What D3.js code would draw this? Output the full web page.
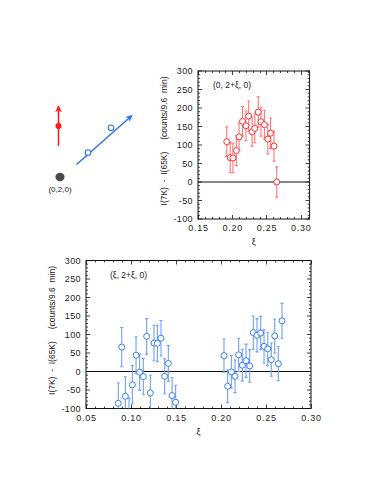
<!DOCTYPE html>
<html>
<head>
<meta charset="utf-8">
<script src="https://cdn.jsdelivr.net/npm/d3@7"></script>
<style>
  body { margin: 0; background: #fff; }
  svg text { font-family: "Liberation Sans", Arial, sans-serif; fill: #222; }
</style>
</head>
<body>
<svg id="chart" width="382" height="494"></svg>
<script>
// top panel: (0, 2+xi, 0), red
var topXi   = [0.192, 0.197, 0.201, 0.206, 0.210, 0.215, 0.220, 0.224, 0.229, 0.233, 0.238, 0.242, 0.247, 0.252, 0.256, 0.261, 0.265];
var topVal  = [109, 66, 65, 85, 122, 164, 152, 178, 136, 145, 189, 163, 155, 116, 132, 97, 0];
var topErr  = [40, 41, 40, 40, 37, 40, 40, 41, 39, 39, 41, 39, 39, 40, 41, 41, 41];

// bottom panel: (xi, 2+xi, 0), blue
var botXi   = [0.0859, 0.0897, 0.0937, 0.0978, 0.1015, 0.1056, 0.1096, 0.1137, 0.1174, 0.1215, 0.1256, 0.1293, 0.1333, 0.1374, 0.1415, 0.1456, 0.1496,
               0.2033, 0.2074, 0.2115, 0.2156, 0.2196, 0.2237, 0.2278, 0.2319, 0.2359, 0.2400, 0.2441, 0.2478, 0.2519, 0.2559, 0.2597, 0.2637, 0.2678];
var botVal  = [-86, 66, -67, -125, -36, 44, -2, -14, 95, -58, 77, 76, 90, -13, 22, -65, -83,
               43, -40, -1, -13, 45, 17, 29, 15, 105, 98, 104, 68, 61, 32, 96, 21, 137];
var botErr  = [55, 53, 53, 53, 52, 50, 49, 49, 48, 48, 48, 49, 48, 47, 48, 48, 46,
               45, 44, 44, 44, 45, 43, 45, 44, 45, 45, 45, 45, 45, 45, 46, 46, 47];

var yTicks = [-100, -50, 0, 50, 100, 150, 200, 250, 300];
var topXTicks = [0.15, 0.20, 0.25, 0.30];
var botXTicks = [0.05, 0.10, 0.15, 0.20, 0.25, 0.30];

var RED = "#ff3333", RED_BAR = "#ff7777";
var BLUE = "#3a7ff0", BLUE_BAR = "#6fa0f5";

var svg = d3.select("#chart");

function panel(opt) {
  var x = d3.scaleLinear().domain(opt.xDomain).range([opt.left, opt.right]);
  var y = d3.scaleLinear().domain([-100, 300]).range([opt.bottom, opt.top]);
  var g = svg.append("g");

  var clipId = "clip" + opt.id;
  svg.append("clipPath").attr("id", clipId).append("rect")
    .attr("x", opt.left).attr("y", opt.top)
    .attr("width", opt.right - opt.left).attr("height", opt.bottom - opt.top);

  // minor + major ticks, inside on all four sides
  var xMinor = d3.range(Math.round(opt.xDomain[0] * 100), Math.floor(opt.xDomain[1] * 100 + 1e-6) + 1).map(function(d){ return d / 100; });
  var yMinor = d3.range(-100, 301, 10);
  var tk = g.append("g").attr("stroke", "#111").attr("stroke-width", 0.8);
  xMinor.forEach(function(v) {
    var major = Math.abs(v * 20 - Math.round(v * 20)) < 1e-6;
    var len = major ? 4 : 2;
    var px = Math.round(x(v)) + 0.5;
    tk.append("line").attr("x1", px).attr("x2", px).attr("y1", opt.bottom).attr("y2", opt.bottom - len);
    tk.append("line").attr("x1", px).attr("x2", px).attr("y1", opt.top).attr("y2", opt.top + len);
  });
  yMinor.forEach(function(v) {
    var len = (v % 50 === 0) ? 4 : 2;
    var py = y(v);
    tk.append("line").attr("y1", py).attr("y2", py).attr("x1", opt.left).attr("x2", opt.left + len);
    tk.append("line").attr("y1", py).attr("y2", py).attr("x1", opt.right).attr("x2", opt.right - len);
  });

  // zero line
  g.append("line").attr("x1", opt.left).attr("x2", opt.right)
    .attr("y1", y(0)).attr("y2", y(0)).attr("stroke", "#111").attr("stroke-width", 1.1);

  // frame
  g.append("rect").attr("x", opt.left).attr("y", opt.top)
    .attr("width", opt.right - opt.left).attr("height", opt.bottom - opt.top)
    .attr("fill", "none").attr("stroke", "#111").attr("stroke-width", 1);

  // tick labels via axes
  var xAxis = d3.axisBottom(x).tickValues(opt.xTicks).tickSize(0).tickPadding(6)
    .tickFormat(d3.format(".2f"));
  var xa = g.append("g").attr("transform", "translate(0," + opt.bottom + ")").call(xAxis);
  xa.select(".domain").remove();
  xa.selectAll("text").attr("font-size", "9px").attr("letter-spacing", "0.7px").attr("fill", "#222")
    .style("font-family", "'Liberation Sans', Arial, sans-serif");

  var yAxis = d3.axisLeft(y).tickValues(yTicks).tickSize(0).tickPadding(5)
    .tickFormat(function(d){ return d < 0 ? "-" + Math.abs(d) : d; });
  var ya = g.append("g").attr("transform", "translate(" + opt.left + ",0)").call(yAxis);
  ya.select(".domain").remove();
  ya.selectAll("text").attr("font-size", "9px").attr("letter-spacing", "0.4px").attr("fill", "#222")
    .style("font-family", "'Liberation Sans', Arial, sans-serif");

  // axis titles
  g.append("text").attr("x", (opt.left + opt.right) / 2).attr("y", opt.bottom + 26)
    .attr("text-anchor", "middle").attr("font-size", "9px").text("ξ");
  g.append("text")
    .attr("transform", "translate(" + (opt.left - 31) + "," + ((opt.top + opt.bottom) / 2 - 4) + ") rotate(-90)")
    .attr("text-anchor", "middle").attr("font-size", "8.5px").attr("xml:space", "preserve")
    .style("white-space", "pre")
    .text("I(7K)  -  I(65K)     (counts/9.6  min)");

  g.append("text").attr("x", opt.labelX).attr("y", opt.top + 17)
    .attr("font-size", "8.5px").style("white-space", "pre").text(opt.label);

  // data
  var data = opt.xs.map(function(v, i){ return { x: v, y: opt.ys[i], e: opt.es[i] }; });
  var pts = g.append("g").attr("clip-path", "url(#" + clipId + ")");
  var bars = pts.selectAll("g.eb").data(data).enter().append("g").attr("class", "eb")
    .attr("stroke", opt.barColor).attr("stroke-width", 1.1);
  bars.append("line")
    .attr("x1", function(d){ return x(d.x); }).attr("x2", function(d){ return x(d.x); })
    .attr("y1", function(d){ return y(d.y + d.e); }).attr("y2", function(d){ return y(d.y - d.e); });
  bars.append("line")
    .attr("x1", function(d){ return x(d.x) - 1.5; }).attr("x2", function(d){ return x(d.x) + 1.5; })
    .attr("y1", function(d){ return y(d.y + d.e); }).attr("y2", function(d){ return y(d.y + d.e); });
  bars.append("line")
    .attr("x1", function(d){ return x(d.x) - 1.5; }).attr("x2", function(d){ return x(d.x) + 1.5; })
    .attr("y1", function(d){ return y(d.y - d.e); }).attr("y2", function(d){ return y(d.y - d.e); });
  pts.selectAll("circle").data(data).enter().append("circle")
    .attr("cx", function(d){ return x(d.x); }).attr("cy", function(d){ return y(d.y); })
    .attr("r", 3).attr("fill", "#fff").attr("stroke", opt.color).attr("stroke-width", 1);
}

panel({ id: "top", left: 198, right: 309.6, top: 71, bottom: 219, xDomain: [0.15, 0.313],
        xTicks: topXTicks, xs: topXi, ys: topVal, es: topErr, color: RED, barColor: RED_BAR,
        label: "(0, 2+ξ, 0)", labelX: 213 });
panel({ id: "bot", left: 86, right: 311, top: 260.5, bottom: 408.5, xDomain: [0.05, 0.30],
        xTicks: botXTicks, xs: botXi, ys: botVal, es: botErr, color: BLUE, barColor: BLUE_BAR,
        label: "(ξ, 2+ξ, 0)", labelX: 110 });

// schematic in the upper left
var sk = svg.append("g");
var defs = svg.append("defs");
[["arrRed", "#ff1a1a"], ["arrBlue", "#2f75ea"]].forEach(function(a) {
  defs.append("marker").attr("id", a[0]).attr("viewBox", "0 0 10 10")
    .attr("refX", 9).attr("refY", 5).attr("markerWidth", 7).attr("markerHeight", 7)
    .attr("markerUnits", "userSpaceOnUse").attr("orient", "auto")
    .append("path").attr("d", "M0,0 L10,5 L0,10 L3,5 Z").attr("fill", a[1]);
});
sk.append("ellipse").attr("cx", 60).attr("cy", 177).attr("rx", 4.6).attr("ry", 4.2).attr("fill", "#4a4a4a");
sk.append("text").attr("x", 60).attr("y", 192).attr("text-anchor", "middle").attr("font-size", "8px").text("(0,2,0)");
sk.append("line").attr("x1", 58.5).attr("y1", 146).attr("x2", 58.5).attr("y2", 106)
  .attr("stroke", "#ff1a1a").attr("stroke-width", 1.5).attr("marker-end", "url(#arrRed)");
sk.append("circle").attr("cx", 58.5).attr("cy", 126).attr("r", 3).attr("fill", "#ff1a1a");
sk.append("line").attr("x1", 76.5).attr("y1", 164.5).attr("x2", 132).attr("y2", 115.5)
  .attr("stroke", "#2f75ea").attr("stroke-width", 1.5).attr("marker-end", "url(#arrBlue)");
sk.append("circle").attr("cx", 88).attr("cy", 152.5).attr("r", 2.8).attr("fill", "#fff").attr("stroke", "#2f75ea").attr("stroke-width", 1.1);
sk.append("circle").attr("cx", 111).attr("cy", 127.8).attr("r", 2.8).attr("fill", "#fff").attr("stroke", "#2f75ea").attr("stroke-width", 1.1);
</script>
</body>
</html>
